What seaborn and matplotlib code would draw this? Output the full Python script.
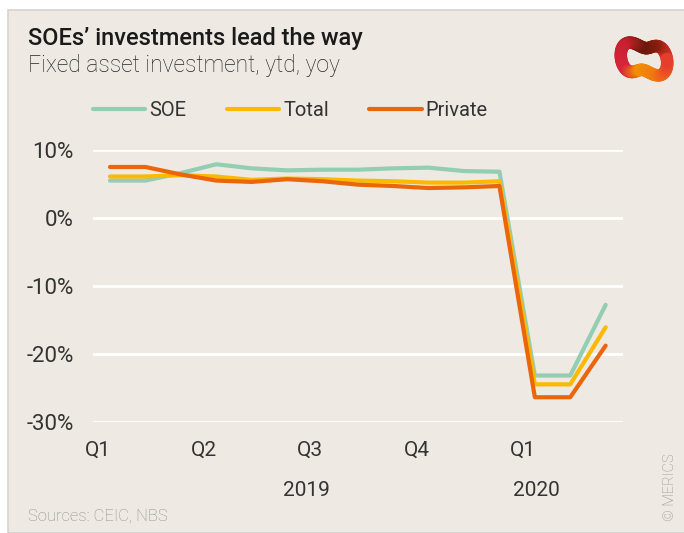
"""
Fixed asset investment by ownership, ytd yoy (MERICS style line chart).
"""

import numpy as np
import pandas as pd
import matplotlib

matplotlib.use("Agg")
import matplotlib.pyplot as plt
import matplotlib.transforms as mtransforms
import seaborn as sns
from matplotlib.lines import Line2D
from matplotlib.patches import Rectangle

# month slots: Jan-Dec 2019, then Jan-Mar 2020 (Jan filled with the Jan-Feb figure)
periods = list(range(15))
soe = [5.5, 5.5, 6.6, 7.9, 7.3, 7.0, 7.1, 7.1, 7.3, 7.4, 6.9, 6.8, -23.2, -23.2, -12.8]
total = [6.1, 6.1, 6.3, 6.1, 5.6, 5.8, 5.7, 5.5, 5.4, 5.2, 5.2, 5.4, -24.5, -24.5, -16.1]
private = [7.5, 7.5, 6.4, 5.5, 5.3, 5.7, 5.4, 4.9, 4.7, 4.4, 4.5, 4.7, -26.4, -26.4, -18.8]

series_names = ["SOE", "Total", "Private"]
colors = {"SOE": "#93CDB3", "Total": "#FBBA00", "Private": "#EB6608"}

quarter_labels = ["Q1", "Q2", "Q3", "Q4", "Q1"]
quarter_pos = [-0.34, 2.66, 5.66, 8.66, 11.66]
year_labels = ["2019", "2020"]
year_pos = [5.54, 12.03]
y_ticks = [10, 0, -10, -20, -30]

BG = "#EEE9E3"
TEXT = "#333333"

df = pd.DataFrame({
    "period": periods * 3,
    "value": soe + total + private,
    "series": np.repeat(series_names, len(periods)),
})

sns.set_theme(style="white")
plt.rcParams["font.family"] = ["Roboto", "DejaVu Sans"]

fig = plt.figure(figsize=(6.84, 5.33), dpi=100, facecolor="white")
fig.patches.append(Rectangle((8 / 684, 0), 1, 1 - 10 / 533, transform=fig.transFigure,
                             facecolor=BG, edgecolor="#D6D3D0", linewidth=1.2, zorder=-1))

ax = fig.add_axes([93 / 684, 1 - 421.7 / 533, (623 - 93) / 684, (421.7 - 150) / 533])
ax.patch.set_alpha(0)

for y in y_ticks:
    ax.axhline(y, color="white", linewidth=2, zorder=0)
n_grid = len(ax.lines)

sns.lineplot(data=df, x="period", y="value", hue="series", hue_order=series_names,
             palette=colors, linewidth=3, legend=False, ax=ax, zorder=3)
for line in ax.lines[n_grid:]:
    line.set_solid_capstyle("round")
    line.set_solid_joinstyle("round")
    line.set_clip_on(False)

ax.set_xlim(-0.48, 14.49)
ax.set_ylim(-30, 10)
ax.set_yticks(y_ticks)
ax.set_yticklabels([f"{v}%" for v in y_ticks], fontsize=16, color=TEXT)
ax.set_xticks(quarter_pos)
ax.set_xticklabels(quarter_labels, fontsize=15, color=TEXT)
ax.tick_params(axis="y", length=0, pad=14)
ax.tick_params(axis="x", length=0, pad=14)
ax.set_xlabel("")
ax.set_ylabel("")
sns.despine(ax=ax, left=True, bottom=True)

year_tr = mtransforms.blended_transform_factory(ax.transData, fig.transFigure)
for lbl, xp in zip(year_labels, year_pos):
    ax.text(xp, 1 - 491 / 533, lbl, transform=year_tr, fontsize=15, color=TEXT,
            ha="center", va="center")

handles = [Line2D([0], [0], color=colors[s], linewidth=3, solid_capstyle="round") for s in series_names]
fig.legend(handles, series_names, loc="center left", bbox_to_anchor=(75 / 684, 1 - 111 / 533),
           ncol=3, frameon=False, fontsize=14.5, handlelength=2.6, handletextpad=0.2,
           columnspacing=2.0, labelcolor=TEXT)

fig.text(28 / 684, 1 - 38 / 533, "SOEs\u2019 investments lead the way", fontsize=17,
         fontweight="medium", color="#1A1A1A", va="center", ha="left")
fig.text(28 / 684, 1 - 66 / 533, "Fixed asset investment, ytd, yoy", fontsize=16.5,
         fontweight="light", color="#262626", va="center", ha="left")
fig.text(28 / 684, 1 - 516 / 533, "Sources: CEIC, NBS", fontsize=12, fontweight="light",
         color="#8E8E8E", va="center", ha="left")
fig.text(670 / 684, 1 - 487 / 533, "\u00a9 MERICS", fontsize=10.5, fontweight="light",
         color="#8E8E8E", va="center", ha="center", rotation=90)

# small logo: a tilted ribbon loop shaded dark red -> red -> orange
logo = fig.add_axes([612 / 684, 1 - 90 / 533, 64 / 684, 62 / 533])
logo.set_axis_off()
t = np.linspace(0, 2 * np.pi, 90)
r = 0.3 + 0.07 * np.cos(2 * t + 0.6)
lx = 0.5 + r * np.cos(t) * 1.0
ly = 0.5 + r * np.sin(t) * 0.95 + 0.05 * np.sin(3 * t)
shades = sns.blend_palette(["#E53A2E", "#8B1E10", "#6B1A0A", "#C8202E", "#D7263D",
                            "#F39200", "#F07A12", "#E53A2E"], len(t))
for i in range(len(t) - 1):
    logo.plot(lx[i:i + 2], ly[i:i + 2], color=shades[i], linewidth=9, solid_capstyle="round")
logo.set_xlim(0, 1)
logo.set_ylim(0, 1)

fig.savefig("out.png", dpi=100, facecolor=fig.get_facecolor())
